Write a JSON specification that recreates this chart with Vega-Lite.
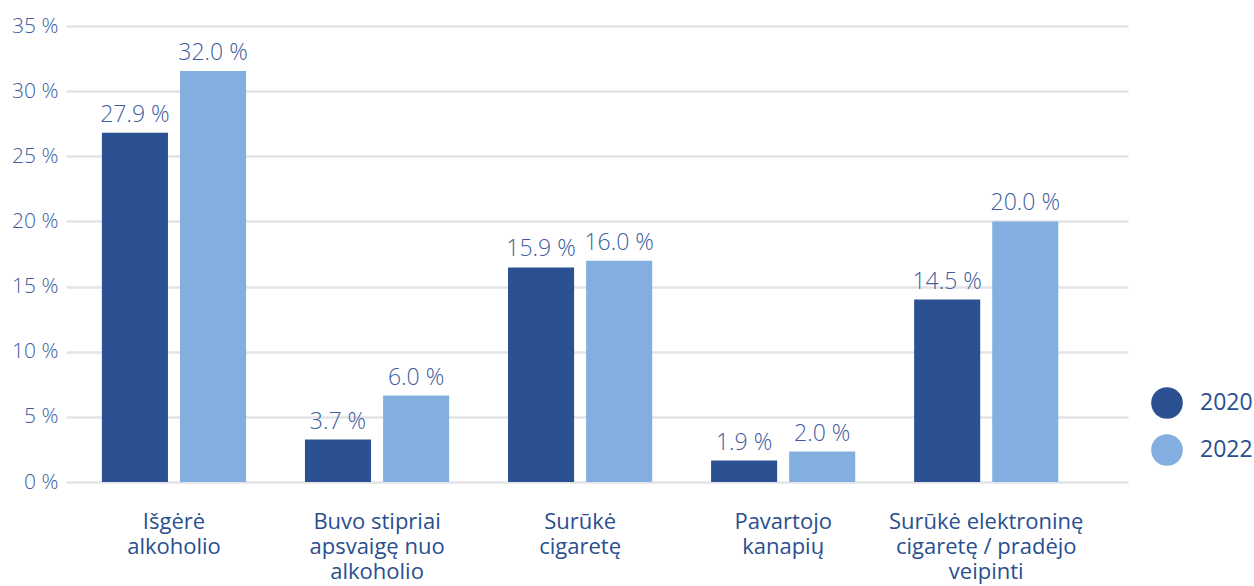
{
  "$schema": "https://vega.github.io/schema/vega-lite/v6.json",
  "autosize": "none",
  "width": 1062,
  "height": 456,
  "padding": {"left": 66, "top": 26, "right": 126, "bottom": 104},
  "background": "white",
  "config": {"view": {"stroke": null}, "font": "Open Sans"},
  "data": {
    "values": [
      {"category": "Išgėrė|alkoholio", "year": "2020", "value": 26.8, "label": "27.9 %"},
      {"category": "Išgėrė|alkoholio", "year": "2022", "value": 31.55, "label": "32.0 %"},
      {"category": "Buvo stipriai|apsvaigę nuo|alkoholio", "year": "2020", "value": 3.26, "label": "3.7 %"},
      {"category": "Buvo stipriai|apsvaigę nuo|alkoholio", "year": "2022", "value": 6.63, "label": "6.0 %"},
      {"category": "Surūkė|cigaretę", "year": "2020", "value": 16.47, "label": "15.9 %"},
      {"category": "Surūkė|cigaretę", "year": "2022", "value": 16.99, "label": "16.0 %"},
      {"category": "Pavartojo|kanapių", "year": "2020", "value": 1.65, "label": "1.9 %"},
      {"category": "Pavartojo|kanapių", "year": "2022", "value": 2.34, "label": "2.0 %"},
      {"category": "Surūkė elektroninę|cigaretę / pradėjo|veipinti", "year": "2020", "value": 14.0, "label": "14.5 %"},
      {"category": "Surūkė elektroninę|cigaretę / pradėjo|veipinti", "year": "2022", "value": 20.0, "label": "20.0 %"}
    ]
  },
  "encoding": {
    "x": {
      "field": "category",
      "type": "nominal",
      "sort": null,
      "scale": {"paddingInner": 0.29, "paddingOuter": 0.26, "align": 0.34},
      "axis": {
        "title": null,
        "domain": false,
        "ticks": false,
        "labelAngle": 0,
        "labelExpr": "split(datum.label, '|')",
        "labelFontSize": 22,
        "labelFontWeight": 500,
        "labelColor": "#2a4f8f",
        "labelLineHeight": 25,
        "labelPadding": 29,
        "labelBaseline": "top",
        "labelLimit": 400
      }
    },
    "xOffset": {
      "field": "year",
      "type": "nominal",
      "scale": {"paddingInner": 0.154, "paddingOuter": 0}
    },
    "y": {
      "field": "value",
      "type": "quantitative",
      "scale": {"domain": [0, 35], "nice": false},
      "axis": {
        "title": null,
        "values": [0, 5, 10, 15, 20, 25, 30, 35],
        "labelExpr": "datum.value + ' %'",
        "domain": false,
        "ticks": false,
        "labelFontSize": 21,
        "labelFontWeight": 300,
        "labelColor": "#3d5b9b",
        "labelPadding": 8,
        "gridColor": "#e3e3e8",
        "gridWidth": 2.5
      }
    }
  },
  "layer": [
    {
      "mark": {"type": "bar"},
      "encoding": {
        "color": {
          "field": "year",
          "type": "nominal",
          "scale": {"domain": ["2020", "2022"], "range": ["#2b5192", "#82afdf"]},
          "legend": {
            "title": null,
            "orient": "none",
            "legendX": 1085,
            "legendY": 361,
            "symbolType": "circle",
            "symbolSize": 1000,
            "symbolStrokeWidth": 0,
            "labelFontSize": 23,
            "labelFontWeight": 500,
            "labelColor": "#2a4f8f",
            "labelOffset": 17,
            "rowPadding": 15
          }
        }
      }
    },
    {
      "mark": {"type": "text", "baseline": "bottom", "dy": -6, "fontSize": 23, "fontWeight": 300, "color": "#3d5da0"},
      "encoding": {"text": {"field": "label"}}
    }
  ]
}
